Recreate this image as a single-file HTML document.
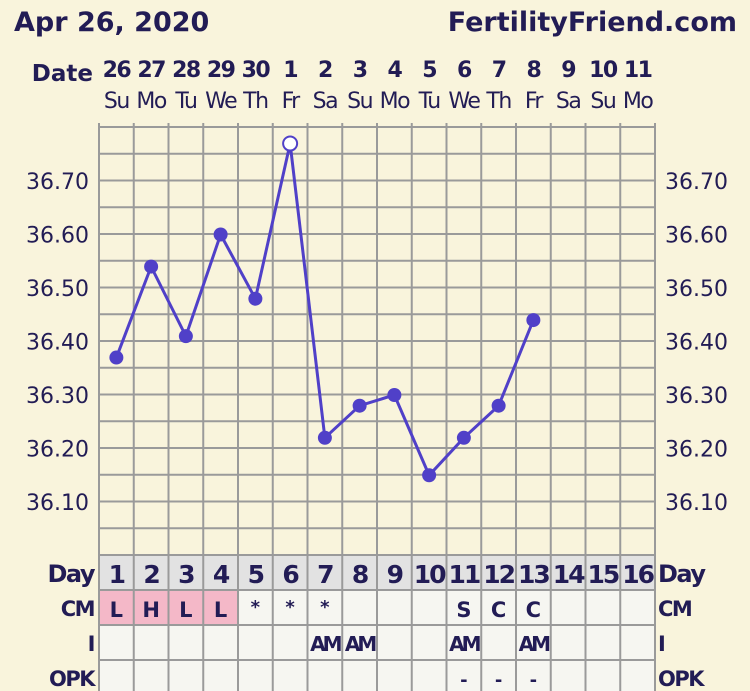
<!DOCTYPE html>
<html><head><style>
body{margin:0;background:#f9f4dc;}
svg{display:block}
text{font-family:"DejaVu Sans","Liberation Sans",sans-serif;fill:#221c55}
.b{font-weight:bold}
</style></head><body>
<svg width="750" height="691" viewBox="0 0 750 691">
<rect width="750" height="691" fill="#f9f4dc"/>
<text x="14" y="31" font-size="27" class="b">Apr 26, 2020</text>
<text x="737" y="31" font-size="27" class="b" text-anchor="end">FertilityFriend.com</text>
<text x="93" y="81" font-size="23" class="b" text-anchor="end">Date</text>
<g id="cells"></g>
<g id="grid" stroke="#9a9a9a" stroke-width="2" fill="none"></g>
<g id="labels"></g>
<g id="series"></g>
</svg>
<script>
const ns="http://www.w3.org/2000/svg";
function el(p,t,a,txt){const e=document.createElementNS(ns,t);for(const k in a)e.setAttribute(k,a[k]);if(txt!==undefined)e.textContent=txt;document.getElementById(p).appendChild(e);return e;}
const L=99,W=34.75,N=16;
const dates=["26","27","28","29","30","1","2","3","4","5","6","7","8","9","10","11"];
const dows=["Su","Mo","Tu","We","Th","Fr","Sa","Su","Mo","Tu","We","Th","Fr","Sa","Su","Mo"];
const cx=i=>L+W*(i+0.5);
el("cells","rect",{x:L,y:556,width:W*N,height:34,fill:"#e2e2e2"});
el("cells","rect",{x:L,y:590,width:W*N,height:101,fill:"#f6f6f1"});
for(let i=0;i<4;i++)el("cells","rect",{x:L+W*i,y:590,width:W,height:35,fill:"#f4b8c8"});
for(let i=0;i<=N;i++)el("grid","line",{x1:L+W*i,y1:123,x2:L+W*i,y2:691});
for(let k=0;k<=16;k++){const y=127+k*26.75;el("grid","line",{x1:L,y1:y,x2:L+W*N,y2:y});}
[590,625,660].forEach(y=>el("grid","line",{x1:L,y1:y,x2:L+W*N,y2:y}));
for(let i=0;i<N;i++){
 el("labels","text",{x:cx(i),y:77,"font-size":22,"text-anchor":"middle",class:"b","letter-spacing":"-1.5"},dates[i]);
 el("labels","text",{x:cx(i),y:108,"font-size":22,"text-anchor":"middle","letter-spacing":"-1.5"},dows[i]);
 el("labels","text",{x:cx(i),y:583,"font-size":25,"text-anchor":"middle",class:"b","letter-spacing":"-2"},String(i+1));
}
for(let k=0;k<7;k++){const y=181+k*53.5+8;const v=(36.7-k*0.1).toFixed(2);
 el("labels","text",{x:89,y:y,"font-size":22,"text-anchor":"end"},v);
 el("labels","text",{x:665,y:y,"font-size":22},v);}
[["Day",582,24],["CM",616,21],["I",651,21],["OPK",686,21]].forEach(([t,y,s])=>{
 el("labels","text",{x:94,y:y,"font-size":s,"text-anchor":"end",class:"b","letter-spacing":"-1.5"},t);
 el("labels","text",{x:658,y:y,"font-size":s,class:"b","letter-spacing":"-1.5"},t);});
const cm={0:"L",1:"H",2:"L",3:"L",10:"S",11:"C",12:"C"};
for(const i in cm)el("labels","text",{x:cx(+i),y:617,"font-size":21,"text-anchor":"middle",class:"b"},cm[i]);
[4,5,6].forEach(i=>el("labels","text",{x:cx(i),y:613,"font-size":18,"text-anchor":"middle",class:"b"},"*"));
[6,7,10,12].forEach(i=>el("labels","text",{x:cx(i),y:651,"font-size":20,"text-anchor":"middle",class:"b","letter-spacing":"-3"},"AM"));
[10,11,12].forEach(i=>el("labels","text",{x:cx(i),y:686,"font-size":18,"text-anchor":"middle",class:"b"},"-"));
const t=[36.37,36.54,36.41,36.60,36.48,36.77,36.22,36.28,36.30,36.15,36.22,36.28,36.44];
const ty=v=>181+(36.70-v)*535;
el("series","polyline",{points:t.map((v,i)=>cx(i)+","+ty(v)).join(" "),fill:"none",stroke:"#5040c8","stroke-width":3});
t.forEach((v,i)=>{if(i==5)el("series","circle",{cx:cx(i),cy:ty(v),r:7,fill:"#fff",stroke:"#5040c8","stroke-width":2});
 else el("series","circle",{cx:cx(i),cy:ty(v),r:7,fill:"#5040c8"});});
</script>
</body></html>
